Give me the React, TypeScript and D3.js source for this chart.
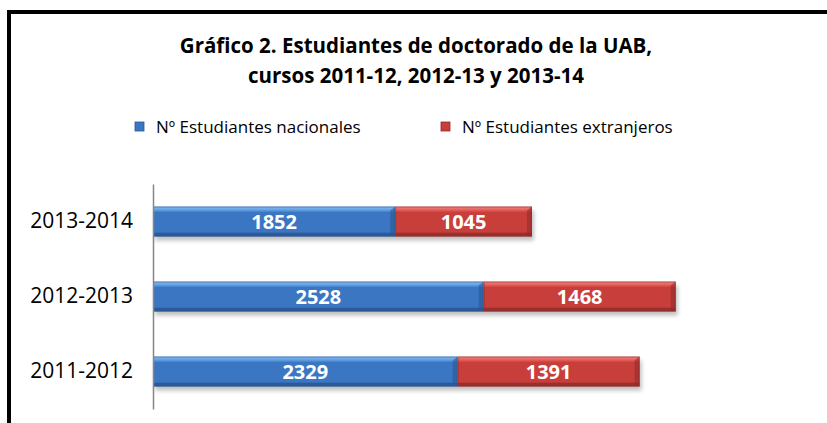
import React, { useEffect, useRef } from "react";
import * as d3 from "d3";

const cursos = ["2013-2014", "2012-2013", "2011-2012"];
const nacionales = [1852, 2528, 2329];
const extranjeros = [1045, 1468, 1391];
const series = ["Nº Estudiantes nacionales", "Nº Estudiantes extranjeros"];
const titulo = [
  "Gráfico 2. Estudiantes de doctorado de la UAB,",
  "cursos 2011-12, 2012-13 y 2013-14",
];

const W = 827;
const H = 423;

const App = () => {
  const ref = useRef<SVGSVGElement>(null);

  useEffect(() => {
    const svg = d3.select(ref.current);
    svg.selectAll("*").remove();

    const font = "'Open Sans', 'Noto Sans', sans-serif";

    // gradients imitating the excel bevel
    const defs = svg.append("defs");
    const grad = (id: string, light: string, top: string, mid: string, dark: string) => {
      const g = defs
        .append("linearGradient")
        .attr("id", id)
        .attr("x1", 0)
        .attr("y1", 0)
        .attr("x2", 0)
        .attr("y2", 1);
      g.append("stop").attr("offset", "0").attr("stop-color", light);
      g.append("stop").attr("offset", "0.12").attr("stop-color", top);
      g.append("stop").attr("offset", "0.2").attr("stop-color", mid);
      g.append("stop").attr("offset", "0.85").attr("stop-color", mid);
      g.append("stop").attr("offset", "0.9").attr("stop-color", dark);
      g.append("stop").attr("offset", "1").attr("stop-color", dark);
    };
    grad("gBlue", "#8cbcf0", "#5f9ee4", "#3b76c2", "#2c5a98");
    grad("gRed", "#f08a86", "#e35c58", "#c83e3a", "#98302d");
    const blur = defs.append("filter").attr("id", "shadow").attr("x", "-5%").attr("y", "-20%").attr("width", "110%").attr("height", "160%");
    blur.append("feGaussianBlur").attr("stdDeviation", 2);
    const fills = ["url(#gBlue)", "url(#gRed)"];
    const edges = ["#2a5590", "#8e2c29"];
    const swatch = ["#3b76c2", "#c83e3a"];

    // frame
    svg
      .append("path")
      .attr("d", `M9,${H} L9,12 L${W},12`)
      .attr("fill", "none")
      .attr("stroke", "#000")
      .attr("stroke-width", 4);

    // title
    svg
      .append("g")
      .selectAll("text")
      .data(titulo)
      .join("text")
      .attr("x", 416)
      .attr("y", (d, i) => 53 + i * 30)
      .attr("text-anchor", "middle")
      .attr("font-family", font)
      .attr("font-weight", "bold")
      .attr("font-size", 20.5)
      .attr("fill", "#000")
      .text((d) => d);

    // legend
    const legX = [135, 441];
    const leg = svg
      .append("g")
      .selectAll("g")
      .data(series)
      .join("g")
      .attr("transform", (d, i) => `translate(${legX[i]},122)`);
    leg
      .append("rect")
      .attr("width", 9)
      .attr("height", 9)
      .attr("fill", (d, i) => swatch[i])
      .attr("stroke", (d, i) => edges[i])
      .attr("stroke-width", 0.8);
    leg
      .append("text")
      .attr("x", 21)
      .attr("y", 11)
      .attr("font-family", font)
      .attr("font-size", 17)
      .attr("fill", "#000")
      .text((d) => d);

    const x = d3.scaleLinear().domain([0, 4500]).range([153, 741.6]);
    const y = d3.scaleBand().domain(cursos).range([184, 409]).paddingInner(0.6).paddingOuter(0.3);

    const rows = cursos.map((c, i) => ({
      curso: c,
      segs: [
        { v: nacionales[i], x0: 0, x1: nacionales[i] },
        { v: extranjeros[i], x0: nacionales[i], x1: nacionales[i] + extranjeros[i] },
      ],
    }));

    // shadows
    svg
      .append("g")
      .selectAll("rect")
      .data(rows)
      .join("rect")
      .attr("x", x(0) + 2)
      .attr("y", (d) => y(d.curso)! + 4)
      .attr("width", (d) => x(d.segs[1].x1) - x(0))
      .attr("height", y.bandwidth())
      .attr("fill", "#000")
      .attr("opacity", 0.25)
      .attr("filter", "url(#shadow)");

    const rowG = svg
      .append("g")
      .selectAll("g")
      .data(rows)
      .join("g")
      .attr("transform", (d) => `translate(0,${y(d.curso)})`);

    const seg = rowG
      .selectAll("g")
      .data((d) => d.segs)
      .join("g");
    seg
      .append("rect")
      .attr("x", (d) => x(d.x0))
      .attr("y", 0)
      .attr("width", (d) => x(d.x1) - x(d.x0))
      .attr("height", y.bandwidth())
      .attr("fill", (d, i) => fills[i]);
    // right bevel edge
    seg
      .append("path")
      .attr("d", (d) => {
        const r = x(d.x1);
        const h = y.bandwidth();
        return `M${r - 5},4 L${r},0 L${r},${h} L${r - 5},${h - 3} Z`;
      })
      .attr("fill", (d, i) => edges[i])
      .attr("opacity", 0.55);
    seg
      .append("rect")
      .attr("x", (d) => x(d.x0) + 0.5)
      .attr("y", 0.5)
      .attr("width", (d) => x(d.x1) - x(d.x0) - 1)
      .attr("height", y.bandwidth() - 1)
      .attr("fill", "none")
      .attr("stroke", (d, i) => edges[i])
      .attr("stroke-opacity", 0.6)
      .attr("stroke-width", 1);
    seg
      .append("text")
      .attr("x", (d) => (x(d.x0) + x(d.x1)) / 2)
      .attr("y", y.bandwidth() / 2)
      .attr("dy", "0.36em")
      .attr("text-anchor", "middle")
      .attr("font-family", font)
      .attr("font-weight", "bold")
      .attr("font-size", 20)
      .attr("fill", "#fff")
      .text((d) => d.v);

    // category axis
    const axis = svg
      .append("g")
      .attr("transform", `translate(${x(0)},0)`)
      .call(d3.axisLeft(y).tickSize(0).tickPadding(20));
    axis.select(".domain").attr("stroke", "#868686").attr("stroke-width", 1.5);
    axis
      .selectAll("text")
      .attr("font-family", font)
      .attr("font-size", 21)
      .attr("fill", "#000");
  }, []);

  return (
    <div style={{ position: "absolute", left: 0, top: 0 }}>
      <svg ref={ref} width={W} height={H} style={{ display: "block", background: "#fff" }}></svg>
    </div>
  );
};

export default App;
